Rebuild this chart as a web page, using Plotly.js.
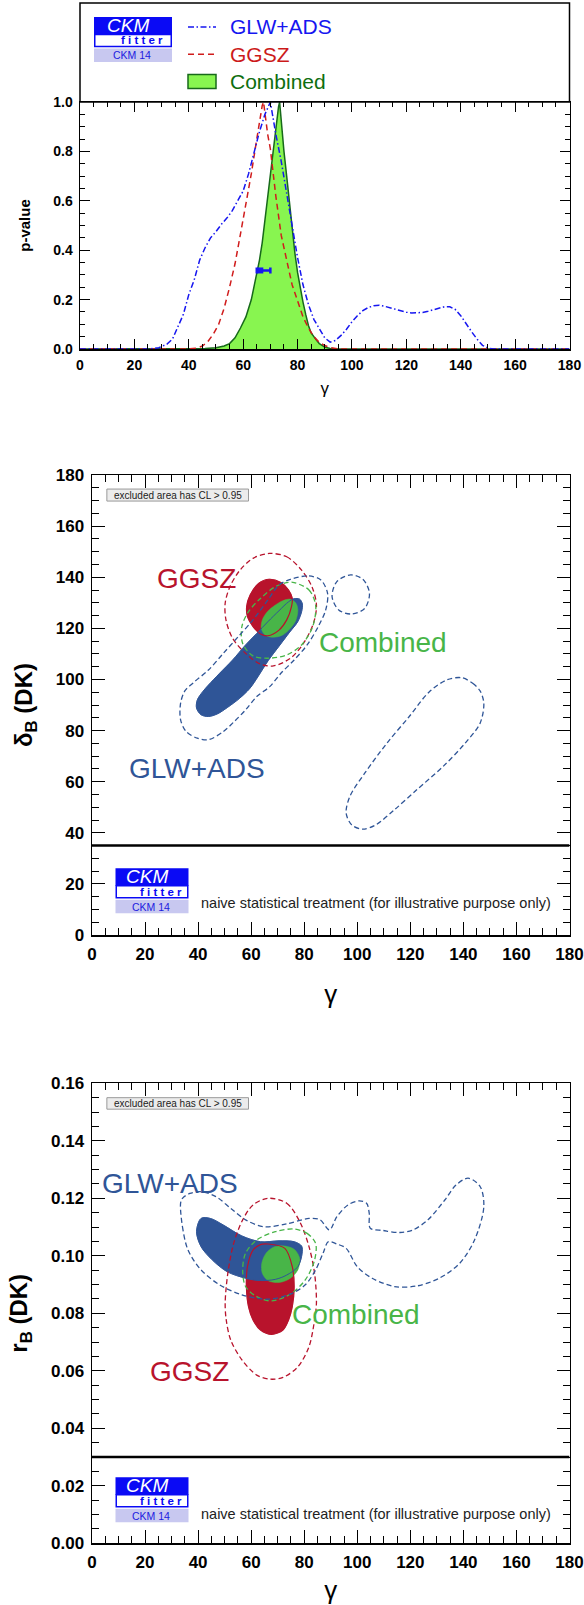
<!DOCTYPE html>
<html><head><meta charset="utf-8">
<script src="https://cdn.plot.ly/plotly-3.0.1.min.js"></script>
<style>html,body{margin:0;padding:0;background:#fff}#chart{width:584px;height:1605px}</style>
</head><body><div id="chart"></div>
<script>
// ---------- Panel 1: p-value vs gamma ----------
const gammaGLW = [0,25,29,32,34,36,38,40,42,44,46,48,50,52,54,56,58,60,62,64,66,68,70,72,74,76,78,80,82,84,86,88,90,92,94,96,98,100,102,104,106,108,110,112,114,116,118,120,122,124,126,128,130,132,134,136,138,140,142,144,146,148,150,152,180];
const pvalGLW  = [0,0,0.005,0.02,0.04,0.09,0.14,0.22,0.28,0.36,0.41,0.45,0.475,0.505,0.53,0.56,0.60,0.64,0.71,0.80,0.88,0.95,1.0,0.87,0.76,0.63,0.50,0.37,0.26,0.18,0.12,0.08,0.045,0.028,0.035,0.055,0.08,0.11,0.135,0.155,0.168,0.175,0.177,0.173,0.167,0.16,0.153,0.149,0.146,0.146,0.148,0.153,0.16,0.166,0.171,0.171,0.16,0.135,0.10,0.07,0.04,0.015,0.004,0,0];
const gammaGGSZ = [0,40,43,45,47,49,51,53,55,57,59,61,63,65,66,67,67.5,68,69,70,71,72,73,74,76,78,80,82,84,86,88,90,92,95,180];
const pvalGGSZ  = [0,0,0.004,0.012,0.03,0.06,0.10,0.165,0.25,0.345,0.465,0.585,0.71,0.85,0.92,0.985,1.0,0.95,0.87,0.81,0.71,0.62,0.54,0.46,0.36,0.26,0.195,0.13,0.085,0.05,0.027,0.014,0.006,0,0];
const gammaComb = [0,40,46,50,53,55,57,59,61,63,65,66,67,68,69,70,71,72,73,73.4,74,75,76,77,78,79,80,81,82,83,84,85,86,87,88,90,92,95,180];
const pvalComb  = [0,0,0.002,0.005,0.012,0.022,0.045,0.085,0.13,0.20,0.30,0.36,0.43,0.52,0.61,0.72,0.81,0.90,0.98,1.0,0.91,0.80,0.70,0.59,0.48,0.39,0.31,0.245,0.19,0.14,0.095,0.065,0.048,0.035,0.022,0.008,0.002,0,0];
const gammaMeas = [66.3], pvalMeas = [0.318], errPlus = [3.7], errMinus = [1.3];

// ---------- Panel 2: delta_B(DK) vs gamma ----------
const dGGSZ1_gamma = [66.8,71.2,74.1,75.5,75.2,73.4,70.5,66.3,63.5,60.7,58.6,58.3,59.6,62.8,66.8];
const dGGSZ1_delta = [139.2,137.9,135.0,131.7,128.5,123.3,119.3,117.1,117.8,120.7,124.6,128.5,133.0,137.6,139.2];
const dGLW1_gamma = [76.2,78.3,79.3,79.0,77.5,74.5,70.5,66.5,62.5,59.5,55.5,51.0,47.4,43.9,41.1,39.4,39.7,41.8,43.9,48.1,53.0,57.9,62.1,66.3,70.5,74.1,76.2];
const dGLW1_delta = [131.6,131.4,129.5,126.5,122.5,118.5,113.0,107.5,101.0,96.5,92.5,89.0,86.6,85.5,86.2,88.8,92.0,95.3,97.8,102.4,107.6,113.5,118.0,122.6,126.9,130.4,131.6];
const dComb1_gamma = [74.8,76.9,77.6,76.9,74.8,71.9,68.4,65.2,63.8,64.2,66.1,69.1,71.9,74.8];
const dComb1_delta = [131.4,129.8,127.2,123.3,120.0,117.4,116.5,117.4,120.0,123.3,126.5,129.1,130.8,131.4];
const dGGSZ2_gamma = [66.8,73.4,79.0,82.9,84.6,83.5,79.7,74.8,68.4,63.5,57.9,53.0,50.5,50.2,52.0,55.8,60.7,66.8];
const dGGSZ2_delta = [149.3,148.0,142.8,136.3,129.1,122.0,114.1,108.3,105.3,106.0,110.2,116.1,123.3,129.8,136.3,142.8,147.4,149.3];
const dComb2_gamma = [76.2,81.8,84.3,83.2,79.0,73.4,66.3,60.7,56.8,56.5,59.0,63.5,69.1,73.4,76.2];
const dComb2_delta = [137.9,135.0,129.1,120.7,113.5,109.6,108.3,109.2,114.1,120.7,126.5,131.7,136.3,137.9,137.9];
const dGLW2a_gamma = [74.8,81.8,86.3,88.8,88.1,85.3,81.1,76.2,71.2,67.0,62.1,57.9,53.7,49.5,43.9,39.7,35.5,33.4,33.4,35.0,38.3,43.9,49.5,55.1,60.7,66.3,70.5,74.8];
const dGLW2a_delta = [139.2,140.5,138.9,133.7,127.2,120.7,113.5,107.6,102.4,97.2,93.3,88.1,83.6,79.6,76.4,77.0,79.6,84.2,90.7,95.5,98.8,103.7,110.2,116.7,123.3,131.1,137.0,139.2];
const dGLW2b_gamma = [97.5,102.1,104.6,102.8,97.9,93.0,90.5,92.3,97.5];
const dGLW2b_delta = [140.9,139.2,133.7,127.8,125.6,127.2,132.4,138.3,140.9];
const dGLW2c_gamma = [139.3,143.5,146.3,147.7,146.3,140.7,132.3,122.4,114.0,107.0,102.1,97.9,95.8,97.2,102.8,111.2,119.6,127.0,133.7,139.3];
const dGLW2c_delta = [100.7,98.5,95.5,90.7,82.9,75.1,65.9,56.8,49.0,43.1,41.4,43.1,47.7,54.2,63.3,75.1,85.5,95.0,99.8,100.7];

// ---------- Panel 3: r_B(DK) vs gamma ----------
const rGLW1_gamma = [41.1,44.6,49.5,56.5,63.5,70.5,76.2,79.0,79.2,77.6,73.4,69.1,63.5,57.9,50.9,45.3,41.1,39.4,41.1];
const rGLW1_r = [0.1130,0.1130,0.1107,0.1069,0.1049,0.1052,0.1049,0.1034,0.1009,0.0962,0.0933,0.0918,0.0914,0.0922,0.0945,0.0986,0.1032,0.1084,0.1130];
const rGGSZ1_gamma = [66.3,72.7,75.5,76.2,75.5,74.1,72.0,67.7,63.5,60.7,59.0,58.2,58.6,60.7,63.5,66.3];
const rGGSZ1_r = [0.1041,0.1026,0.0962,0.0893,0.0823,0.0777,0.0742,0.0727,0.0742,0.0777,0.0823,0.0893,0.0962,0.1020,0.1039,0.1041];
const rComb1_gamma = [71.9,76.2,78.3,77.6,74.8,70.5,66.3,64.2,64.0,65.6,68.4,71.9];
const rComb1_r = [0.1035,0.1023,0.0991,0.0951,0.0922,0.0907,0.0914,0.0939,0.0974,0.1009,0.1030,0.1035];
const rGGSZ2_gamma = [66.3,73.4,78.3,81.8,83.9,84.6,83.9,81.8,77.6,72.0,67.0,62.1,56.5,52.3,50.6,50.2,51.2,53.4,56.8,60.7,66.3];
const rGGSZ2_r = [0.1200,0.1183,0.1119,0.1032,0.0939,0.0835,0.0777,0.0684,0.0614,0.0577,0.0571,0.0585,0.0638,0.0707,0.0777,0.0835,0.0939,0.1043,0.1125,0.1177,0.1200];
const rComb2_gamma = [76.2,81.1,84.3,83.9,80.4,74.8,67.7,62.1,57.9,56.8,57.9,62.1,69.1,76.2];
const rComb2_r = [0.1093,0.1078,0.1043,0.0985,0.0916,0.0867,0.0843,0.0858,0.0893,0.0951,0.1009,0.1055,0.1084,0.1093];
const rGLW2_gamma = [33.4,34.1,36.2,41.1,48.1,56.5,66.3,74.8,80.4,84.3,87.1,89.1,92.3,95.8,100.0,105.6,114.0,122.4,130.9,138.6,144.2,147.7,146.3,141.8,137.2,133.0,126.6,121.0,116.1,109.8,104.9,104.5,103.5,100.7,96.5,92.3,89.5,86.0,81.8,73.4,64.9,57.9,52.3,46.7,41.1,36.9,34.1,33.4];
const rGLW2_r = [0.1183,0.1101,0.1020,0.0951,0.0899,0.0864,0.0849,0.0867,0.0899,0.0951,0.1009,0.1049,0.1041,0.1026,0.0962,0.0922,0.0893,0.0895,0.0922,0.0974,0.1055,0.1171,0.1241,0.1270,0.1246,0.1194,0.1125,0.1090,0.1081,0.1088,0.1096,0.1148,0.1183,0.1191,0.1177,0.1136,0.1090,0.1125,0.1130,0.1111,0.1101,0.1125,0.1165,0.1206,0.1223,0.1217,0.1200,0.1183];

// ---------- labels ----------
const legendNames = ['GLW+ADS','GGSZ','Combined'];
const noteExcluded = 'excluded area has CL > 0.95';
const noteNaive = 'naive statistical treatment (for illustrative purpose only)';

// ---------- styling ----------
const W = 584, H = 1605;
const px = v => v / W, py = v => 1 - v / H;
const FONT = 'Liberation Sans, Arial, Helvetica, sans-serif';
const C_BLUE = '#2f5597', C_RED = '#b8132c', C_GREEN = '#48b548';
const T_BLUE = '#1616f0', T_RED = '#d01c1c', T_GFILL = '#88f550', T_GLINE = '#17691a';
const DASH = '5px,3px';

function fillTrace(x, y, xa, ya, color, lw) {
  return {x, y, xaxis: xa, yaxis: ya, mode: 'lines', fill: 'toself', fillcolor: color,
    line: {color: color, width: lw, shape: 'spline', smoothing: 0.9}, hoverinfo: 'skip', showlegend: false};
}
function lineTrace(x, y, xa, ya, color, lw, dash) {
  return {x, y, xaxis: xa, yaxis: ya, mode: 'lines',
    line: {color: color, width: lw, dash: dash || 'solid', shape: 'spline', smoothing: 0.9}, hoverinfo: 'skip', showlegend: false};
}

const data = [
  // panel 1
  {x: gammaComb, y: pvalComb, xaxis: 'x', yaxis: 'y', mode: 'lines', fill: 'tozeroy', fillcolor: T_GFILL,
   line: {color: T_GLINE, width: 1.5}, name: legendNames[2], showlegend: false},
  {x: gammaGGSZ, y: pvalGGSZ, xaxis: 'x', yaxis: 'y', mode: 'lines', line: {color: T_RED, width: 1.5, dash: '6px,4px'}, name: legendNames[1], showlegend: false},
  {x: gammaGLW, y: pvalGLW, xaxis: 'x', yaxis: 'y', mode: 'lines', line: {color: T_BLUE, width: 1.5, dash: '6px,2.5px,1.5px,2.5px'}, name: legendNames[0], showlegend: false},
  {x: gammaMeas, y: pvalMeas, xaxis: 'x', yaxis: 'y', mode: 'markers', marker: {symbol: 'square', size: 6, color: T_BLUE},
   error_x: {type: 'data', symmetric: false, array: errPlus, arrayminus: errMinus, color: T_BLUE, thickness: 2.5, width: 3}, showlegend: false},
  // panel 2 fills
  fillTrace(dGGSZ1_gamma, dGGSZ1_delta, 'x2', 'y2', C_RED, 0.5),
  fillTrace(dGLW1_gamma, dGLW1_delta, 'x2', 'y2', C_BLUE, 0.5),
  fillTrace(dComb1_gamma, dComb1_delta, 'x2', 'y2', C_GREEN, 0.5),
  lineTrace(dGGSZ1_gamma, dGGSZ1_delta, 'x2', 'y2', C_RED, 1.2),
  lineTrace(dGLW1_gamma, dGLW1_delta, 'x2', 'y2', C_BLUE, 1.0),
  lineTrace(dGGSZ2_gamma, dGGSZ2_delta, 'x2', 'y2', C_RED, 1.3, DASH),
  lineTrace(dComb2_gamma, dComb2_delta, 'x2', 'y2', C_GREEN, 1.3, DASH),
  lineTrace(dGLW2a_gamma, dGLW2a_delta, 'x2', 'y2', C_BLUE, 1.3, DASH),
  lineTrace(dGLW2b_gamma, dGLW2b_delta, 'x2', 'y2', C_BLUE, 1.3, DASH),
  lineTrace(dGLW2c_gamma, dGLW2c_delta, 'x2', 'y2', C_BLUE, 1.3, DASH),
  // panel 3
  fillTrace(rGGSZ1_gamma, rGGSZ1_r, 'x3', 'y3', C_RED, 0.5),
  fillTrace(rGLW1_gamma, rGLW1_r, 'x3', 'y3', C_BLUE, 0.5),
  fillTrace(rComb1_gamma, rComb1_r, 'x3', 'y3', C_GREEN, 0.5),
  lineTrace(rGGSZ1_gamma, rGGSZ1_r, 'x3', 'y3', C_RED, 1.2),
  lineTrace(rGLW1_gamma, rGLW1_r, 'x3', 'y3', C_BLUE, 1.0),
  lineTrace(rGGSZ2_gamma, rGGSZ2_r, 'x3', 'y3', C_RED, 1.3, DASH),
  lineTrace(rComb2_gamma, rComb2_r, 'x3', 'y3', C_GREEN, 1.3, DASH),
  lineTrace(rGLW2_gamma, rGLW2_r, 'x3', 'y3', C_BLUE, 1.3, DASH)
];

function ax(extra, big) {
  const base = {
    showline: true, linecolor: 'black', linewidth: 1.5, mirror: 'allticks',
    ticks: 'inside', ticklen: big ? 13 : 10, tickwidth: 1, tickcolor: 'black',
    showgrid: false, zeroline: false, fixedrange: true, automargin: false,
    tickfont: {family: FONT, size: big ? 17 : 14, color: 'black', weight: 'bold'},
    ticklabelstandoff: 3
  };
  return Object.assign(base, extra);
}
const minorX = big => ({dtick: 5, tick0: 0, ticklen: big ? 7 : 5, tickwidth: 1, tickcolor: 'black', ticks: 'inside'});

const layout = {
  width: W, height: H, margin: {l: 0, r: 0, t: 0, b: 0},
  paper_bgcolor: 'white', plot_bgcolor: 'white', showlegend: false,
  font: {family: FONT, color: 'black'},
  xaxis: ax({domain: [px(80), px(569.5)], anchor: 'y', range: [0, 180], tick0: 0, dtick: 20, minor: minorX(false),
    title: {text: 'γ', font: {family: FONT, size: 17, color: 'black'}, standoff: 10}}, false),
  yaxis: ax({domain: [py(349), py(102)], anchor: 'x', range: [0, 1], tick0: 0, dtick: 0.2, tickformat: '.1f',
    minor: {dtick: 0.05, tick0: 0, ticklen: 5, tickwidth: 1, tickcolor: 'black', ticks: 'inside'},
    title: {text: 'p-value', font: {family: FONT, size: 15, color: 'black', weight: 'bold'}, standoff: 19}}, false),
  xaxis2: ax({domain: [px(92), px(569.5)], anchor: 'y2', range: [0, 180], tick0: 0, dtick: 20, minor: minorX(true),
    title: {text: 'γ', font: {family: FONT, size: 26, color: 'black'}, standoff: 22}}, true),
  yaxis2: ax({domain: [py(935), py(475)], anchor: 'x2', range: [0, 180], tick0: 0, dtick: 20,
    minor: {dtick: 5, tick0: 0, ticklen: 7, tickwidth: 1, tickcolor: 'black', ticks: 'inside'},
    title: {text: 'δ<sub>B</sub> (DK)', font: {family: FONT, size: 24, color: 'black', weight: 'bold'}, standoff: 16}}, true),
  xaxis3: ax({domain: [px(92), px(569.5)], anchor: 'y3', range: [0, 180], tick0: 0, dtick: 20, minor: minorX(true),
    title: {text: 'γ', font: {family: FONT, size: 26, color: 'black'}, standoff: 16}}, true),
  yaxis3: ax({domain: [py(1543.3), py(1083.3)], anchor: 'x3', range: [0, 0.16], tick0: 0, dtick: 0.02, tickformat: '.2f',
    minor: {dtick: 0.005, tick0: 0, ticklen: 7, tickwidth: 1, tickcolor: 'black', ticks: 'inside'},
    title: {text: 'r<sub>B</sub> (DK)', font: {family: FONT, size: 24, color: 'black', weight: 'bold'}, standoff: 16}}, true),
  shapes: [],
  annotations: []
};

const S = layout.shapes, A = layout.annotations;
// frame around the legend area of panel 1
S.push({type: 'rect', xref: 'paper', yref: 'paper', x0: px(80), x1: px(569.5), y0: py(102), y1: py(3), line: {color: 'black', width: 1.5}, layer: 'above'});
// manual legend
S.push({type: 'line', xref: 'paper', yref: 'paper', x0: px(188), x1: px(216), y0: py(27), y1: py(27), line: {color: T_BLUE, width: 1.5, dash: '6px,2.5px,1.5px,2.5px'}});
S.push({type: 'line', xref: 'paper', yref: 'paper', x0: px(188), x1: px(216), y0: py(54.3), y1: py(54.3), line: {color: T_RED, width: 1.5, dash: '6px,4px'}});
S.push({type: 'rect', xref: 'paper', yref: 'paper', x0: px(188), x1: px(216), y0: py(88.5), y1: py(74.5), fillcolor: T_GFILL, line: {color: T_GLINE, width: 1.5}});
const legColors = [T_BLUE, '#cc1a1a', '#0e6e0e'];
const legY = [26.7, 54.3, 81];
legendNames.forEach((n, i) => A.push({xref: 'paper', yref: 'paper', x: px(228), y: py(legY[i]), xanchor: 'left', yanchor: 'middle',
  text: n, showarrow: false, font: {family: FONT, size: 21, color: legColors[i]}}));

// CKMfitter logos
function logo(x0, x1, yTop, ckmSize) {
  const c = (x0 + x1) / 2;
  const yb = yTop + 17.5, yw = yb + 12, yl0 = yw + 2, yl1 = yl0 + 13.5;
  S.push({type: 'rect', xref: 'paper', yref: 'paper', x0: px(x0), x1: px(x1), y0: py(yb), y1: py(yTop), fillcolor: '#0a0af5', line: {width: 0}, layer: 'above'});
  S.push({type: 'rect', xref: 'paper', yref: 'paper', x0: px(x0 + 0.75), x1: px(x1 - 0.75), y0: py(yw), y1: py(yb), fillcolor: 'white', line: {color: '#0a0af5', width: 1.5}, layer: 'above'});
  S.push({type: 'rect', xref: 'paper', yref: 'paper', x0: px(x0), x1: px(x1), y0: py(yl1), y1: py(yl0), fillcolor: '#c8c8f0', line: {width: 0}, layer: 'above'});
  A.push({xref: 'paper', yref: 'paper', x: px(c - 5), y: py(yb + 2), xanchor: 'center', yanchor: 'bottom', showarrow: false, borderpad: 0,
    text: 'CKM', font: {family: FONT, size: ckmSize, color: 'white', style: 'italic'}});
  A.push({xref: 'paper', yref: 'paper', x: px(c + 9), y: py(yw + 1), xanchor: 'center', yanchor: 'bottom', showarrow: false, borderpad: 0,
    text: 'f i t t e r', font: {family: FONT, size: 11.5, color: '#0a0af5', weight: 'bold'}});
  A.push({xref: 'paper', yref: 'paper', x: px(c - 1.5), y: py((yl0 + yl1) / 2), xanchor: 'center', yanchor: 'middle', showarrow: false, borderpad: 0,
    text: 'CKM 14', font: {family: FONT, size: 10.5, color: '#2020e0'}});
}
logo(94, 172, 17, 19);
logo(115.5, 188.5, 868.3, 19);
logo(115.5, 188.5, 1477.3, 19);

// horizontal separator lines
S.push({type: 'line', xref: 'x2', yref: 'y2', x0: 0, x1: 180, y0: 35, y1: 35, line: {color: 'black', width: 2.5}});
S.push({type: 'line', xref: 'x3', yref: 'y3', x0: 0, x1: 180, y0: 0.03, y1: 0.03, line: {color: 'black', width: 2.5}});

// excluded-area notes
S.push({type: 'rect', xref: 'x2', yref: 'y2', x0: 5.6, x1: 59, y0: 169.8, y1: 174.5, fillcolor: '#ececec', line: {color: '#9a9a9a', width: 1}});
A.push({xref: 'x2', yref: 'y2', x: 32.3, y: 172.15, text: noteExcluded, showarrow: false, xanchor: 'center', yanchor: 'middle', font: {family: FONT, size: 10, color: '#222'}});
S.push({type: 'rect', xref: 'x3', yref: 'y3', x0: 5.6, x1: 59, y0: 0.151, y1: 0.155, fillcolor: '#ececec', line: {color: '#9a9a9a', width: 1}});
A.push({xref: 'x3', yref: 'y3', x: 32.3, y: 0.153, text: noteExcluded, showarrow: false, xanchor: 'center', yanchor: 'middle', font: {family: FONT, size: 10, color: '#222'}});

// naive treatment notes
A.push({xref: 'paper', yref: 'paper', x: px(199), y: py(903.3), xanchor: 'left', yanchor: 'middle', text: noteNaive, showarrow: false, font: {family: FONT, size: 14.5, color: '#222'}});
A.push({xref: 'paper', yref: 'paper', x: px(199), y: py(1514.3), xanchor: 'left', yanchor: 'middle', text: noteNaive, showarrow: false, font: {family: FONT, size: 14.5, color: '#222'}});

// region labels
function lab(xa, ya, x, y, t, col) {
  A.push({xref: xa, yref: ya, x, y, text: t, showarrow: false, xanchor: 'center', yanchor: 'middle', font: {family: FONT, size: 28, color: col}});
}
lab('x2', 'y2', 39.3, 139.6, 'GGSZ', C_RED);
lab('x2', 'y2', 109.7, 114.5, 'Combined', C_GREEN);
lab('x2', 'y2', 39.6, 65, 'GLW+ADS', C_BLUE);
lab('x3', 'y3', 29.5, 0.125, 'GLW+ADS', C_BLUE);
lab('x3', 'y3', 99.5, 0.0797, 'Combined', C_GREEN);
lab('x3', 'y3', 36.9, 0.0597, 'GGSZ', C_RED);

Plotly.newPlot('chart', data, layout, {displayModeBar: false, staticPlot: true});
</script></body></html>
